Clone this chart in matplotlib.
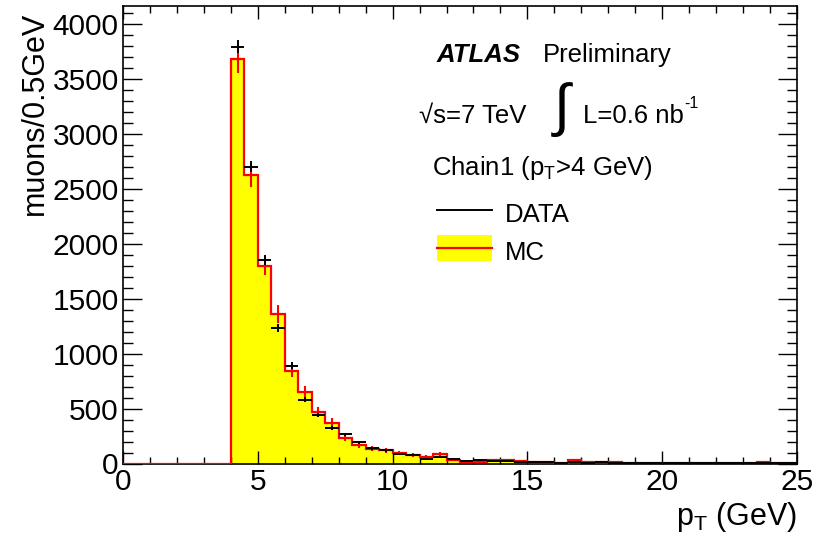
import numpy as np
import matplotlib
matplotlib.use("Agg")
import matplotlib.pyplot as plt
from matplotlib.lines import Line2D
from matplotlib.patches import Rectangle

plt.rcParams['font.family'] = ['Liberation Sans', 'DejaVu Sans']
plt.rcParams['mathtext.fontset'] = 'custom'
plt.rcParams['mathtext.rm'] = 'Liberation Sans'
plt.rcParams['mathtext.it'] = 'Liberation Sans:italic'

# 0.5 GeV bins from 0 to 25 GeV, first 8 bins (0-4 GeV) empty
bin_edges = np.arange(0, 25.01, 0.5)

mc_counts = [0, 0, 0, 0, 0, 0, 0, 0,
             3680, 2620, 1800, 1360, 845, 650, 465, 370, 235, 170,
             135, 122, 97, 76, 61, 88, 30, 12, 15, 30,
             32, 25, 16, 14, 5, 30, 15, 10, 15, 8,
             5, 6, 8, 4, 5, 3, 4, 6, 5, 12, 4, 3]
mc_errors = [0, 0, 0, 0, 0, 0, 0, 0,
             125, 110, 90, 78, 62, 54, 45, 40, 32, 27,
             24, 23, 21, 18, 16, 20, 11, 7, 8, 11,
             12, 10, 8, 8, 5, 11, 8, 6, 8, 6,
             5, 5, 6, 4, 5, 4, 4, 5, 5, 7, 4, 4]
data_counts = [0, 0, 0, 0, 0, 0, 0, 0,
               3790, 2700, 1850, 1230, 890, 580, 440, 320, 265, 195,
               137, 119, 88, 73, 43, 61, 43, 27, 30, 25,
               20, 15, 16, 14, 8, 10, 9, 10, 8, 6,
               6, 5, 7, 4, 5, 3, 4, 2, 3, 3, 2, 2]

x_ticks = [0, 5, 10, 15, 20, 25]
y_ticks = [0, 500, 1000, 1500, 2000, 2500, 3000, 3500, 4000]

W, H = 831, 534
fig = plt.figure(figsize=(W / 100, H / 100), dpi=100)
ax = fig.add_axes([123 / W, 1 - 463.5 / H, (797 - 123) / W, (463.5 - 6) / H])


def px(x, y):
    return x / W, 1 - y / H


mc = np.array(mc_counts, dtype=float)
mc_err = np.array(mc_errors, dtype=float)
data = np.array(data_counts, dtype=float)
centers = 0.5 * (bin_edges[:-1] + bin_edges[1:])
half = 0.25

# MC: yellow filled histogram with red outline and red error bars
ax.fill_between(bin_edges, np.append(mc, mc[-1]), step='post',
                color='#ffff00', lw=0, zorder=1)
ax.vlines(centers[mc > 0], (mc - mc_err)[mc > 0], (mc + mc_err)[mc > 0],
          color='#ff0000', lw=1.5, zorder=2)
ax.stairs(mc, bin_edges, color='#ff0000', lw=1.6, zorder=3)

# data points with error bars
sel = data > 0
ax.errorbar(centers[sel], data[sel], xerr=half, yerr=np.sqrt(data[sel]),
            fmt='none', ecolor='black', elinewidth=1.4, capsize=0, zorder=4)

ax.set_xlim(0, 25)
ax.set_ylim(0, 4160)
ax.set_xticks(x_ticks)
ax.set_xticklabels([str(t) for t in x_ticks])
ax.set_yticks(y_ticks)
ax.set_yticklabels([str(t) for t in y_ticks])
ax.set_xticks(np.arange(0, 25.01, 1), minor=True)
ax.set_yticks(np.arange(0, 4160, 100), minor=True)
ax.tick_params(which='both', direction='in', top=True, right=True,
               labelsize=21.5, width=1.0)
ax.tick_params(axis='x', which='major', length=9.5, pad=3)
ax.tick_params(axis='x', which='minor', length=5)
ax.tick_params(axis='y', which='major', length=14, pad=3)
ax.tick_params(axis='y', which='minor', length=7)
for s in ax.spines.values():
    s.set_linewidth(1.2)

fig.text(*px(35, 12), 'muons/0.5GeV', rotation=90, ha='center', va='top',
         fontsize=22)
fig.text(*px(797, 525), r'p$_\mathregular{T}$ (GeV)', ha='right',
         va='baseline', fontsize=22)

# labels and legend
fig.text(*px(437, 62), 'ATLAS', fontsize=18.5, fontweight='bold',
         fontstyle='italic', va='baseline')
fig.text(*px(543, 62), 'Preliminary', fontsize=18.5, va='baseline')
fig.text(*px(419, 123), '\u221as=7 TeV', fontsize=18.5, va='baseline')
fig.text(*px(562, 110), '\u222b', fontsize=42, va='center', ha='center',
         family=['Liberation Sans', 'DejaVu Sans'])
fig.text(*px(583, 123), 'L=0.6 nb', fontsize=18.5, va='baseline')
fig.text(*px(684, 108), '-1', fontsize=11.5, va='baseline')
fig.text(*px(432, 175), r'Chain1 (p$_\mathregular{T}$>4 GeV)', fontsize=18.5,
         va='baseline')

x0, y0 = px(437, 210)
x1, _ = px(492, 210)
fig.add_artist(Line2D([x0, x1], [y0, y0], color='black', lw=1.4,
                      transform=fig.transFigure))
fig.text(*px(505, 222), 'DATA', fontsize=18.5, va='baseline')

bx, by = px(437, 261)
fig.add_artist(Rectangle((bx, by), 55 / W, 26 / H, facecolor='#ffff00',
                         edgecolor='none', transform=fig.transFigure))
ry = px(0, 248)[1]
fig.add_artist(Line2D([x0, x1], [ry, ry], color='#ff0000', lw=1.6,
                      transform=fig.transFigure))
fig.text(*px(505, 260), 'MC', fontsize=18.5, va='baseline')

fig.savefig('out.png', dpi=100)
